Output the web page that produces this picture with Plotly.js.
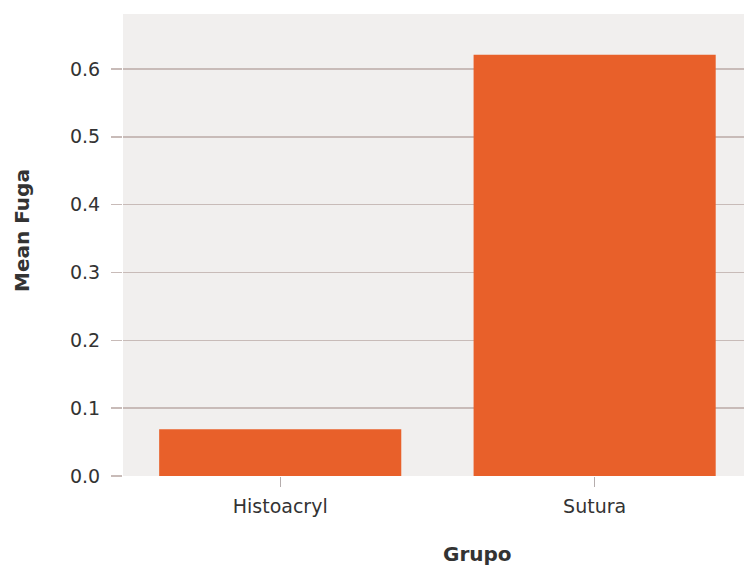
<!DOCTYPE html>
<html>
<head>
<meta charset="utf-8">
<script src="https://cdn.plot.ly/plotly-3.0.1.min.js"></script>
<style>html,body{margin:0;padding:0;background:#fff;}#chart{width:744px;height:568px;}</style>
</head>
<body>
<div id="chart"></div>
<script>
var categories = ["Histoacryl", "Sutura"];
var meanFuga = [0.069, 0.621];
var yTickVals = [0, 0.1, 0.2, 0.3, 0.4, 0.5, 0.6];
var yTickText = ["0.0", "0.1", "0.2", "0.3", "0.4", "0.5", "0.6"];

var trace = {
  type: "bar",
  x: categories,
  y: meanFuga,
  marker: {color: "#e8602a", line: {width: 0}},
  hoverinfo: "skip"
};

var layout = {
  width: 744,
  height: 568,
  margin: {l: 123, r: 0, t: 14, b: 92, pad: 0},
  paper_bgcolor: "#ffffff",
  plot_bgcolor: "#f1efee",
  bargap: 0.23,
  font: {family: "DejaVu Sans, Liberation Sans, Arial, sans-serif", color: "#333333", size: 19},
  showlegend: false,
  xaxis: {
    range: [-0.5, 1.475],
    showgrid: false,
    zeroline: false,
    showline: false,
    ticks: "outside",
    ticklen: 10,
    tickwidth: 1,
    tickcolor: "#b5adad",
    tickfont: {size: 19, color: "#333333"},
    ticklabelstandoff: 3
  },
  yaxis: {
    range: [0, 0.681],
    tickvals: yTickVals,
    ticktext: yTickText,
    showgrid: true,
    gridcolor: "#c8bbb8",
    gridwidth: 1.5,
    zeroline: false,
    showline: false,
    ticks: "outside",
    ticklen: 11,
    tickwidth: 1.5,
    tickcolor: "#c8bbb8",
    tickfont: {size: 19, color: "#333333"},
    ticklabelstandoff: 7
  },
  annotations: [
    {text: "<b>Grupo</b>", xref: "paper", yref: "paper", x: (477 - 123) / 621, y: 0,
     xanchor: "center", yanchor: "middle", yshift: -78, showarrow: false,
     font: {size: 20, color: "#333333"}},
    {text: "<b>Mean Fuga</b>", xref: "paper", yref: "paper", x: 0, y: (476 - 231) / 462,
     xanchor: "center", yanchor: "middle", xshift: -101, textangle: -90, showarrow: false,
     font: {size: 20, color: "#333333"}}
  ]
};

Plotly.newPlot("chart", [trace], layout, {staticPlot: true, displayModeBar: false});
</script>
</body>
</html>
